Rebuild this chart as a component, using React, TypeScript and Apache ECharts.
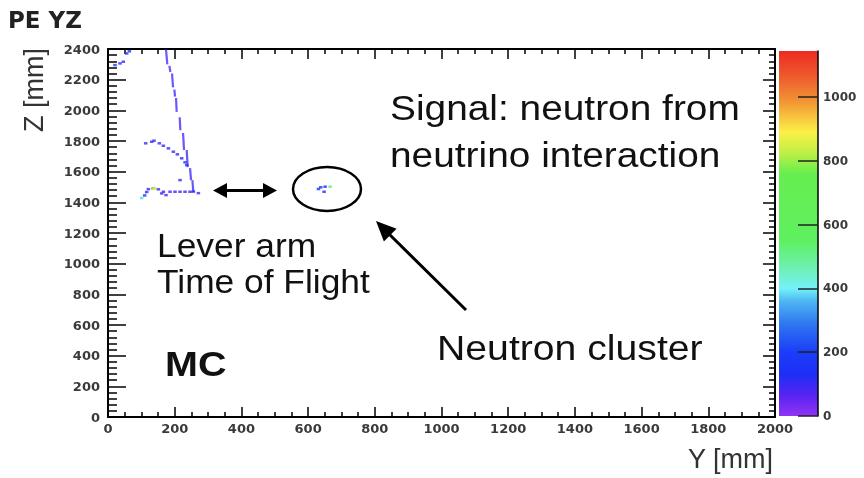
import React, { useEffect, useRef } from "react";
import * as echarts from "echarts";

// Axis ranges (mm) and colour scale (PE)
const yAxisRange = [0, 2000]; // horizontal axis: Y [mm]
const zAxisRange = [0, 2400]; // vertical axis: Z [mm]
const peRange = [0, 1145];
const horizontalStep = 200;
const verticalStep = 200;
const peStep = 200;

// Long muon-like track: staircase pieces [[Y, Z], [Y, Z]]
const trackSegments: number[][][] = [
  [[174, 2395], [178, 2300]],
  [[184, 2290], [187, 2250]],
  [[192, 2240], [195, 2150]],
  [[199, 2135], [201, 2090]],
  [[204, 2080], [206, 1990]],
  [[215, 1955], [217, 1870]],
  [[225, 1852], [228, 1741]],
  [[236, 1741], [239, 1630]],
  [[246, 1623], [249, 1545]],
  [[253, 1545], [256, 1467]],
];

// Hits [Y, Z, PE]
const arcHits = [
  [113, 1785, 95], [131, 1795, 100], [138, 1802, 110], [154, 1785, 95],
  [166, 1769, 100], [181, 1752, 110], [196, 1730, 100], [208, 1713, 110],
  [221, 1687, 120], [231, 1661, 140], [236, 1643, 160],
];
const vertexHits = [
  [101, 1428, 380], [110, 1445, 160], [116, 1467, 130], [121, 1486, 110],
  [134, 1490, 1000], [138, 1493, 640], [140, 1488, 860],
  [151, 1485, 100], [166, 1469, 90], [186, 1469, 100], [201, 1469, 90],
  [216, 1469, 100], [231, 1469, 90], [246, 1469, 110], [256, 1470, 160],
  [271, 1460, 90], [161, 1458, 80], [174, 1447, 80], [216, 1545, 100],
];
const cornerHits = [
  [21, 2295, 140], [36, 2306, 110], [46, 2317, 100], [56, 2371, 160], [64, 2385, 190],
];
const clusterHits = [
  [631, 1487, 180], [638, 1498, 150], [651, 1502, 120], [666, 1502, 560], [648, 1469, 120],
];

// ROOT-like rainbow palette [PE, colour]
const paletteStops: [number, string][] = [
  [0, "#9034f5"], [60, "#5d24f2"], [130, "#1f2ef5"], [200, "#1a3df8"],
  [290, "#2f78f0"], [360, "#4fb5f2"], [400, "#72f2f8"], [460, "#6ff0b8"],
  [550, "#5ff060"], [760, "#66ee4f"], [830, "#c4f045"], [890, "#fbf046"],
  [940, "#f7c23e"], [990, "#f19233"], [1060, "#ee5e2e"], [1145, "#ec2b22"],
];

function paletteColor(v: number): string {
  for (let i = 1; i < paletteStops.length; i++) {
    const [v1, c1] = paletteStops[i];
    const [v0, c0] = paletteStops[i - 1];
    if (v <= v1) {
      const t = (v - v0) / (v1 - v0);
      return echarts.color.lerp(t, [c0, c1]) as string;
    }
  }
  return paletteStops[paletteStops.length - 1][1];
}

const tickFont = "DejaVu Sans";
const textFont = "Liberation Sans";

export default function App() {
  const ref = useRef<HTMLDivElement>(null);
  useEffect(() => {
    if (!ref.current) return;
    const chart = echarts.init(ref.current, undefined, { renderer: "svg" });

    const plain = (v: number) => String(v);
    const tickLabel = { fontFamily: tickFont, fontSize: 13, fontWeight: "bold" as const, color: "#3a3a3a", formatter: plain };
    const axisLine = { show: true, onZero: false, lineStyle: { color: "#000", width: 2 } };

    const hitSeries = [arcHits, vertexHits, cornerHits, clusterHits].map((d) => ({
      type: "scatter",
      xAxisIndex: 0,
      yAxisIndex: 0,
      data: d,
      symbol: "rect",
      symbolSize: [3.5, 2.5],
      z: 5,
      itemStyle: { color: (p: any) => paletteColor(p.value[2]) },
    }));

    const trackSeries = trackSegments.map((seg) => ({
      type: "line",
      xAxisIndex: 0,
      yAxisIndex: 0,
      data: seg,
      symbol: "none",
      lineStyle: { color: "#6a58ff", width: 2.2 },
      z: 4,
    }));

    const arrowHead = (tip: number[], dir: number[], len: number, half: number) => {
      const [dx, dy] = dir;
      const n = Math.hypot(dx, dy);
      const ux = dx / n, uy = dy / n;
      const bx = tip[0] - ux * len, by = tip[1] - uy * len;
      return {
        type: "polygon",
        shape: { points: [tip, [bx - uy * half, by + ux * half], [bx + uy * half, by - ux * half]] },
        style: { fill: "#000" },
        z: 100,
      };
    };

    const option: any = {
      animation: false,
      grid: [
        { left: 108, right: 89, top: 49, bottom: 61 },
        { left: 779, right: 46, top: 51, bottom: 62 },
      ],
      xAxis: [
        {
          gridIndex: 0, type: "value", position: "bottom",
          min: yAxisRange[0], max: yAxisRange[1], interval: horizontalStep,
          axisLine, splitLine: { show: false },
          axisTick: { inside: true, length: 10, lineStyle: { color: "#000", width: 1.5 } },
          minorTick: { show: true, splitNumber: 4, length: 5, lineStyle: { color: "#000", width: 1.5 } },
          axisLabel: { ...tickLabel, margin: 5 },
        },
        {
          gridIndex: 0, type: "value", position: "top",
          min: yAxisRange[0], max: yAxisRange[1], interval: horizontalStep,
          axisLine, splitLine: { show: false },
          axisTick: { inside: true, length: 10, lineStyle: { color: "#000", width: 1.5 } },
          minorTick: { show: true, splitNumber: 4, length: 5, lineStyle: { color: "#000", width: 1.5 } },
          axisLabel: { show: false },
        },
        { gridIndex: 1, type: "category", data: ["PE"], show: false },
      ],
      yAxis: [
        {
          gridIndex: 0, type: "value", position: "left",
          min: zAxisRange[0], max: zAxisRange[1], interval: verticalStep,
          axisLine, splitLine: { show: false },
          axisTick: { inside: true, length: 18, lineStyle: { color: "#000", width: 1.5 } },
          minorTick: { show: true, splitNumber: 5, length: 9, lineStyle: { color: "#000", width: 1.5 } },
          axisLabel: { ...tickLabel, margin: 8 },
        },
        {
          gridIndex: 0, type: "value", position: "right",
          min: zAxisRange[0], max: zAxisRange[1], interval: verticalStep,
          axisLine, splitLine: { show: false },
          axisTick: { inside: true, length: 12, lineStyle: { color: "#000", width: 1.5 } },
          minorTick: { show: true, splitNumber: 5, length: 6, lineStyle: { color: "#000", width: 1.5 } },
          axisLabel: { show: false },
        },
        {
          gridIndex: 1, type: "value", position: "right", z: 20,
          min: peRange[0], max: peRange[1], interval: peStep,
          axisLine: { show: true, lineStyle: { color: "#000", width: 1.5 } },
          splitLine: { show: false },
          axisTick: { show: true, inside: true, length: 20, lineStyle: { color: "#222", width: 1.5 } },
          axisLabel: { ...tickLabel, fontSize: 12, margin: 5, showMaxLabel: false },
        },
      ],
      series: [
        ...trackSeries,
        ...hitSeries,
        {
          type: "bar",
          xAxisIndex: 2,
          yAxisIndex: 2,
          data: [peRange[1]],
          barWidth: "100%",
          barCategoryGap: "0%",
          z: -5,
          itemStyle: {
            color: new echarts.graphic.LinearGradient(
              0, 1, 0, 0,
              paletteStops.map(([v, c]) => ({ offset: v / peRange[1], color: c }))
            ),
          },
        },
      ],
      graphic: [
        { type: "text", x: 8, y: 20, style: { text: "PE YZ", fontFamily: tickFont, fontWeight: "bold", fontSize: 23, fill: "#222", align: "left", verticalAlign: "middle" } },
        { type: "text", x: 773, y: 459, style: { text: "Y [mm]", fontFamily: textFont, fontSize: 27, fill: "#333", align: "right", verticalAlign: "middle" } },
        { type: "text", x: 34, y: 48, rotation: Math.PI / 2, style: { text: "Z [mm]", fontFamily: textFont, fontSize: 27, fill: "#333", align: "right", verticalAlign: "middle" } },
        { type: "text", x: 390, y: 132, scaleX: 1.11, style: { text: "Signal: neutron from\nneutrino interaction", fontFamily: textFont, fontSize: 35, lineHeight: 47, fill: "#111", align: "left", verticalAlign: "middle" } },
        { type: "text", x: 157, y: 263, scaleX: 1.04, style: { text: "Lever arm\nTime of Flight", fontFamily: textFont, fontSize: 34, lineHeight: 36, fill: "#111", align: "left", verticalAlign: "middle" } },
        { type: "text", x: 437, y: 348, scaleX: 1.12, style: { text: "Neutron cluster", fontFamily: textFont, fontSize: 35, fill: "#111", align: "left", verticalAlign: "middle" } },
        { type: "text", x: 165, y: 364, scaleX: 1.13, style: { text: "MC", fontFamily: textFont, fontWeight: "bold", fontSize: 35, fill: "#111", align: "left", verticalAlign: "middle" } },
        { type: "ellipse", shape: { cx: 327, cy: 189, rx: 34, ry: 22 }, style: { fill: "none", stroke: "#000", lineWidth: 2.5 }, z: 100 },
        { type: "line", shape: { x1: 222, y1: 190.5, x2: 268, y2: 190.5 }, style: { stroke: "#000", lineWidth: 3 }, z: 100 },
        arrowHead([213, 190.5], [-1, 0], 14, 7.5),
        arrowHead([277, 190.5], [1, 0], 14, 7.5),
        { type: "line", shape: { x1: 466, y1: 310, x2: 388, y2: 233 }, style: { stroke: "#000", lineWidth: 3 }, z: 100 },
        arrowHead([376, 221], [-90, -89], 20, 9),
      ],
    };
    chart.setOption(option);
    return () => chart.dispose();
  }, []);
  return <div ref={ref} style={{ position: "fixed", left: 0, top: 0, width: 864, height: 478 }} />;
}
